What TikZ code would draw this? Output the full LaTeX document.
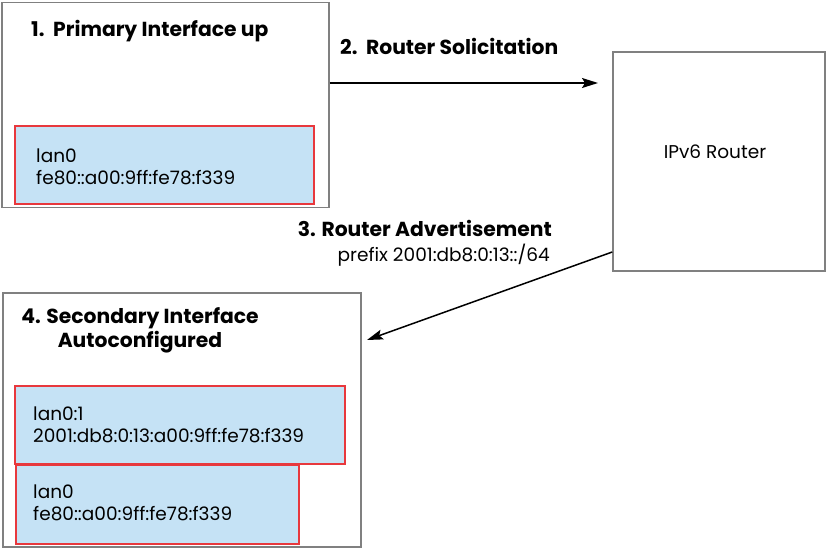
\documentclass[tikz,border=0pt]{standalone}
\usepackage{fontspec}
\setmainfont{Poppins}
\usetikzlibrary{arrows.meta}

\definecolor{boxgray}{RGB}{128,128,128}
\definecolor{ifred}{RGB}{232,56,61}
\definecolor{ifblue}{RGB}{197,226,245}

\newcommand{\labelfont}{\fontsize{18.5bp}{22bp}\selectfont}
\newcommand{\titlefont}{\fontsize{20.3bp}{23bp}\selectfont\bfseries}

\begin{document}
\begin{tikzpicture}[x=1bp,y=-1bp]

      \useasboundingbox (0,0) rectangle (826,549);

      % hosts and router
      \begin{scope}[every node/.style={rectangle,draw=boxgray,line width=1.5bp,inner sep=0pt}]
        \node[minimum width=327bp,minimum height=205bp] (host1) at (165.5,105) {};
        \node[minimum width=212bp,minimum height=219bp] (router) at (719,161.5) {};
        \node[minimum width=358bp,minimum height=254bp] (host2) at (182,420) {};
      \end{scope}

      % interfaces
      \begin{scope}[every node/.style={rectangle,draw=ifred,fill=ifblue,line width=1.5bp,inner sep=0pt}]
        \node[minimum width=299bp,minimum height=78bp] (lan0a) at (164.5,165) {};
        \node[minimum width=330bp,minimum height=78bp] (lan01) at (180,425) {};
        \node[minimum width=283bp,minimum height=79bp] (lan0b) at (157.5,504.5) {};
      \end{scope}

      % base of a two-line node is its last line
      \begin{scope}[every node/.style={inner sep=0pt,anchor=base west,align=left,font=\labelfont}]
        \node (lan0atext) at (36,185) {lan0\\fe80::a00:9ff:fe78:f339};
        \node (lan01text) at (33,442) {lan0:1\\2001:db8:0:13:a00:9ff:fe78:f339};
        \node (lan0btext) at (33,520) {lan0\\fe80::a00:9ff:fe78:f339};
        \node[anchor=base] (routertext) at (715,159) {IPv6 Router};
        \node[anchor=base east] (raprefix) at (550,262) {prefix 2001:db8:0:13::/64};
      \end{scope}

      \begin{scope}[every node/.style={inner sep=0pt,anchor=base west,font=\titlefont}]
        \node (host1title) at (31,37) {1.\ \ Primary Interface up};
        \node (rstitle) at (340,55) {2.\ \ Router Solicitation};
        \node[anchor=base east] (ratitle) at (552,237) {3. Router Advertisement};
        \node[anchor=base,align=center] (host2title) at (140,347) {4. Secondary Interface\\Autoconfigured};
      \end{scope}

      \coordinate (rsend) at (598,83);
      \coordinate (raend) at (367,340);

      \begin{scope}[every edge/.style={draw,line width=1.5bp,-{Stealth[length=16bp,width=10bp,inset=3bp]}}]
        \path (host1.east |- rsend) edge (rsend);
        \path ([yshift=-90.5bp]router.west) edge (raend);
      \end{scope}

    \end{tikzpicture}
\end{document}
